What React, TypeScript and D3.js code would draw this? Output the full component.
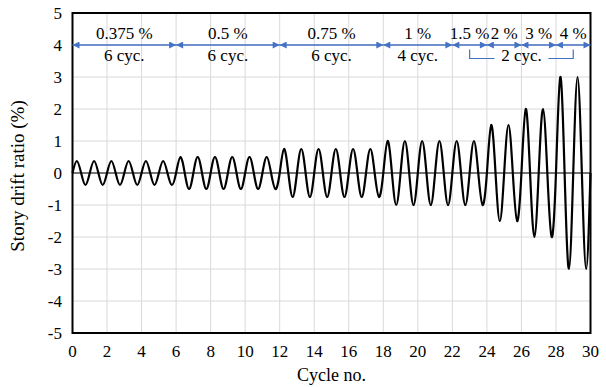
import React from "react";
import * as d3 from "d3";

// Amplitude (story drift ratio, %) of each loading cycle
const cycleAmplitudes: number[] = [
  0.375, 0.375, 0.375, 0.375, 0.375, 0.375,
  0.5, 0.5, 0.5, 0.5, 0.5, 0.5,
  0.75, 0.75, 0.75, 0.75, 0.75, 0.75,
  1, 1, 1, 1, 1, 1,
  1.5, 1.5,
  2, 2,
  3, 3,
];

// Protocol annotation segments
const segStarts: number[] = [0, 6, 12, 18, 22, 24, 26, 28];
const segEnds: number[] = [6, 12, 18, 22, 24, 26, 28, 30];
const segDrift: string[] = ["0.375 %", "0.5 %", "0.75 %", "1 %", "1.5 %", "2 %", "3 %", "4 %"];
const segCycles: (string | null)[] = ["6 cyc.", "6 cyc.", "6 cyc.", "4 cyc.", null, null, null, null];
const bracketRange: number[] = [23, 29];
const bracketLabel = "2 cyc.";

const xTicks: number[] = d3.range(0, 31, 2);
const yTicks: number[] = d3.range(-5, 6, 1);

const W = 606;
const H = 387;
const L = 72.5;
const R = 590.5;
const T = 13;
const B = 333;
const FONT = "Liberation Serif";
const BLUE = "#4472C4";

export default function App() {
  const x = d3.scaleLinear().domain([0, 30]).range([L, R]);
  const y = d3.scaleLinear().domain([-5, 5]).range([B, T]);

  // quarter-cycle key points: zero, peak, zero, trough
  const pts: [number, number][] = [];
  cycleAmplitudes.forEach((a, i) => {
    pts.push([i, 0]);
    pts.push([i + 0.25, a]);
    pts.push([i + 0.5, 0]);
    pts.push([i + 0.75, -a]);
  });
  pts.push([cycleAmplitudes.length, 0]);

  const line = d3
    .line<[number, number]>()
    .x((d) => x(d[0]))
    .y((d) => y(d[1]))
    .curve(d3.curveNatural);

  const ay = y(4);
  const bx0 = x(bracketRange[0]);
  const bx1 = x(bracketRange[1]);
  const bmid = (bx0 + bx1) / 2;
  const by = 58.5;
  const gap = 27;
  const ts: React.CSSProperties = { fontFamily: FONT, fontSize: "17px" };
  const tt: React.CSSProperties = { fontFamily: FONT, fontSize: "18px" };
  const ty: React.CSSProperties = { fontFamily: FONT, fontSize: "19px" };

  return (
    <svg width={W} height={H} style={{ position: "absolute", left: 0, top: 0, background: "#fff" }}>
      <defs>
        <marker id="ah" viewBox="0 0 10 10" refX="10" refY="5" markerWidth="9" markerHeight="7" markerUnits="userSpaceOnUse" orient="auto-start-reverse">
          <path d="M0,0 L10,5 L0,10 z" fill={BLUE} />
        </marker>
      </defs>
      <rect x={0} y={0} width={W} height={H} fill="#fff" />
      {/* grid */}
      {xTicks.map((t) => (
        <line key={"gx" + t} x1={x(t)} x2={x(t)} y1={T} y2={B} stroke="#d9d9d9" strokeWidth={1} />
      ))}
      {yTicks.map((t) => (
        <line key={"gy" + t} x1={L} x2={R} y1={y(t)} y2={y(t)} stroke="#d9d9d9" strokeWidth={1} />
      ))}
      {/* zero line */}
      <line x1={L} x2={R} y1={y(0)} y2={y(0)} stroke="#000" strokeWidth={1} />
      {/* curve */}
      <path d={line(pts) || ""} fill="none" stroke="#000" strokeWidth={2.2} />
      {/* frame */}
      <rect x={L} y={T} width={R - L} height={B - T} fill="none" stroke="#000" strokeWidth={2} />
      {/* tick labels */}
      {xTicks.map((t) => (
        <text key={"tx" + t} x={x(t)} y={357} style={ts} textAnchor="middle" fill="#000">
          {t}
        </text>
      ))}
      {yTicks.map((t) => (
        <text key={"ty" + t} x={62} y={y(t) + 6} style={ts} textAnchor="end" fill="#000">
          {t}
        </text>
      ))}
      {/* axis titles */}
      <text x={(L + R) / 2} y={381} style={tt} textAnchor="middle" fill="#000">
        Cycle no.
      </text>
      <text transform={`translate(24,${(T + B) / 2 + 3}) rotate(-90)`} style={ty} textAnchor="middle" fill="#000">
        Story drift ratio (%)
      </text>
      {/* protocol annotation */}
      {segStarts.map((s, i) => {
        const e = segEnds[i];
        const cx = (x(s) + x(e)) / 2;
        return (
          <g key={"seg" + i}>
            <line x1={x(s)} x2={x(e)} y1={ay} y2={ay} stroke={BLUE} strokeWidth={1.5} markerStart="url(#ah)" markerEnd="url(#ah)" />
            <text x={cx} y={39} style={ts} textAnchor="middle" fill="#000">
              {segDrift[i]}
            </text>
            {segCycles[i] && (
              <text x={cx} y={61} style={ts} textAnchor="middle" fill="#000">
                {segCycles[i]}
              </text>
            )}
          </g>
        );
      })}
      <path
        d={`M${bx0},${by - 9}V${by}H${bmid - gap}M${bmid + gap},${by}H${bx1}V${by - 9}`}
        fill="none"
        stroke={BLUE}
        strokeWidth={1.2}
      />
      <text x={bmid} y={61} style={ts} textAnchor="middle" fill="#000">
        {bracketLabel}
      </text>
    </svg>
  );
}
